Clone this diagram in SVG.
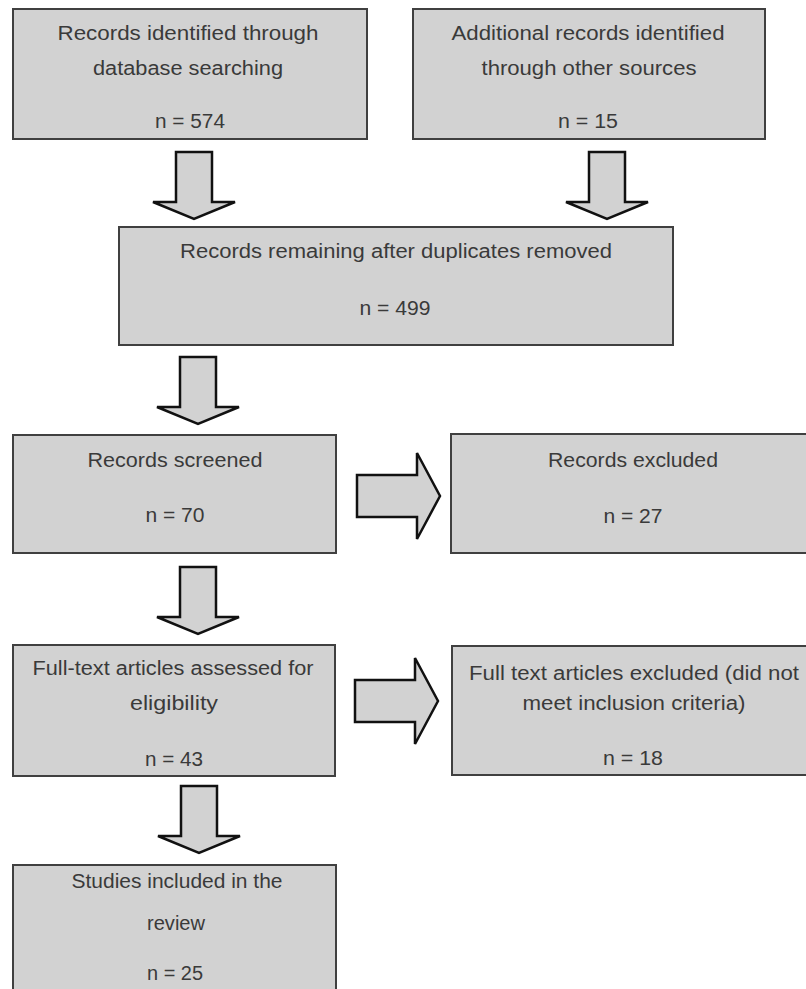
<svg xmlns="http://www.w3.org/2000/svg" xmlns:xlink="http://www.w3.org/1999/xlink" width="806" height="989" viewBox="0 0 806 989">
<style>
  .box { fill: #d2d2d2; stroke: #404040; stroke-width: 2; }
  .arr { fill: #d2d2d2; stroke: #111111; stroke-width: 2.5; stroke-linejoin: miter; }
  text { font-family: "Liberation Sans", Arial, sans-serif; font-size: 20px; fill: #3a3a3a; text-anchor: middle; }
</style>
<defs>
  <path id="down" d="M-18,0 H18 V50 H41 L0,67 L-41,50 H-18 Z"/>
  <path id="right" d="M0,-21 H60 V-43 L83,0 L60,43 V21 H0 Z"/>
</defs>
<rect width="806" height="989" fill="#ffffff"/>

<g id="connectors">
  <use xlink:href="#down" class="arr" x="194" y="152"/>
  <use xlink:href="#down" class="arr" x="607" y="152"/>
  <use xlink:href="#down" class="arr" x="198" y="357"/>
  <use xlink:href="#down" class="arr" x="198" y="567"/>
  <use xlink:href="#down" class="arr" x="199" y="786"/>
  <use xlink:href="#right" class="arr" x="357" y="496"/>
  <use xlink:href="#right" class="arr" x="355" y="701"/>
</g>

<g id="db">
  <rect class="box" x="13" y="9" width="354" height="130"/>
  <text x="188" y="40" textLength="261" lengthAdjust="spacingAndGlyphs">Records identified through</text>
  <text x="188" y="75" textLength="190" lengthAdjust="spacingAndGlyphs">database searching</text>
  <text x="190" y="128" textLength="70" lengthAdjust="spacingAndGlyphs">n = 574</text>
</g>

<g id="other">
  <rect class="box" x="413" y="9" width="352" height="130"/>
  <text x="588" y="40" textLength="273" lengthAdjust="spacingAndGlyphs">Additional records identified</text>
  <text x="589" y="75" textLength="215" lengthAdjust="spacingAndGlyphs">through other sources</text>
  <text x="588" y="128" textLength="60" lengthAdjust="spacingAndGlyphs">n = 15</text>
</g>

<g id="dedup">
  <rect class="box" x="119" y="227" width="554" height="118"/>
  <text x="396" y="258" textLength="432" lengthAdjust="spacingAndGlyphs">Records remaining after duplicates removed</text>
  <text x="395" y="315" textLength="71" lengthAdjust="spacingAndGlyphs">n = 499</text>
</g>

<g id="screened">
  <rect class="box" x="13" y="435" width="323" height="118"/>
  <text x="175" y="467" textLength="175" lengthAdjust="spacingAndGlyphs">Records screened</text>
  <text x="175" y="522" textLength="59" lengthAdjust="spacingAndGlyphs">n = 70</text>
</g>

<g id="excluded">
  <rect class="box" x="451" y="434" width="366" height="119"/>
  <text x="633" y="467" textLength="170" lengthAdjust="spacingAndGlyphs">Records excluded</text>
  <text x="633" y="523" textLength="59" lengthAdjust="spacingAndGlyphs">n = 27</text>
</g>

<g id="fulltext">
  <rect class="box" x="13" y="645" width="322" height="131"/>
  <text x="173" y="675" textLength="281" lengthAdjust="spacingAndGlyphs">Full-text articles assessed for</text>
  <text x="174" y="710" textLength="88" lengthAdjust="spacingAndGlyphs">eligibility</text>
  <text x="174" y="766" textLength="58" lengthAdjust="spacingAndGlyphs">n = 43</text>
</g>

<g id="ftexcluded">
  <rect class="box" x="452" y="646" width="366" height="129"/>
  <text x="634" y="680" textLength="330" lengthAdjust="spacingAndGlyphs">Full text articles excluded (did not</text>
  <text x="634" y="710" textLength="223" lengthAdjust="spacingAndGlyphs">meet inclusion criteria)</text>
  <text x="633" y="765" textLength="60" lengthAdjust="spacingAndGlyphs">n = 18</text>
</g>

<g id="included">
  <rect class="box" x="13" y="865" width="323" height="140"/>
  <text x="177" y="888" textLength="211" lengthAdjust="spacingAndGlyphs">Studies included in the</text>
  <text x="176" y="930" textLength="58" lengthAdjust="spacingAndGlyphs">review</text>
  <text x="175" y="980" textLength="56" lengthAdjust="spacingAndGlyphs">n = 25</text>
</g>
</svg>
